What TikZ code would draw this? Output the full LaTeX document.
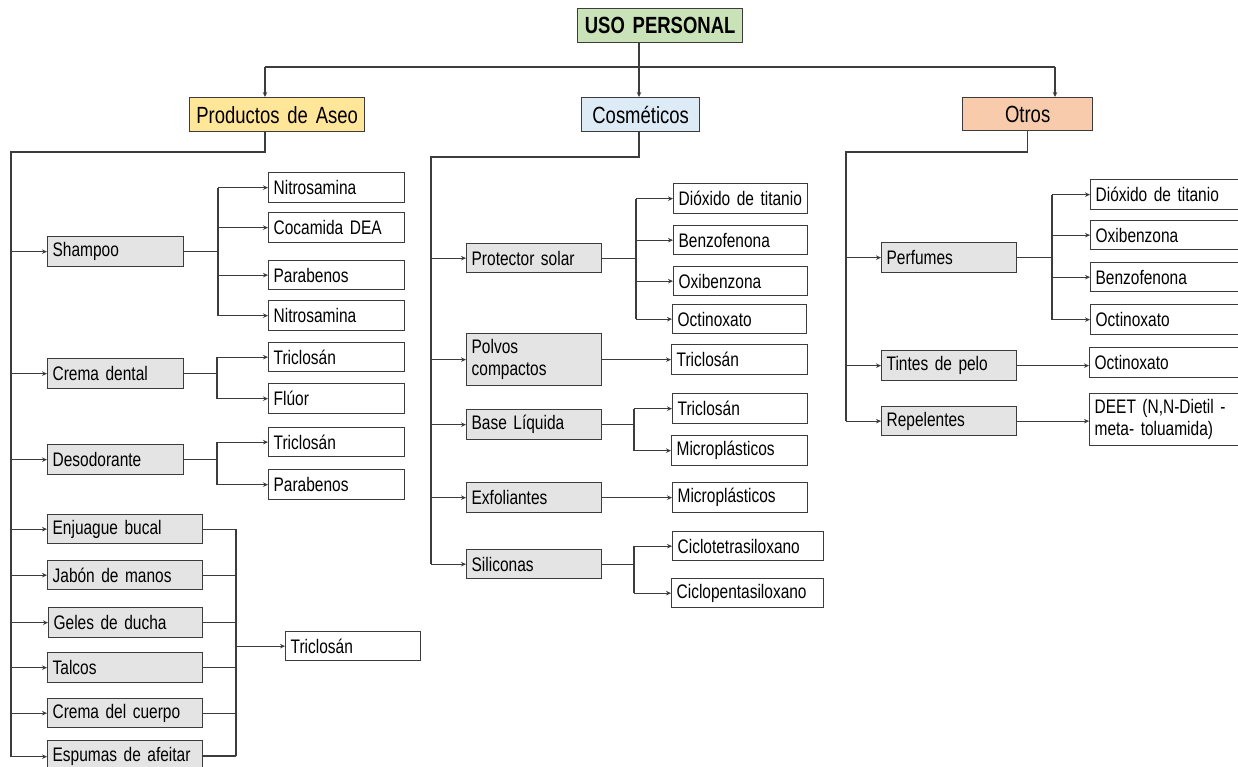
\documentclass[tikz,border=0pt]{standalone}
\usepackage{fontspec}
\setmainfont[FakeStretch=0.79]{Liberation Sans}
\usetikzlibrary{arrows.meta}

\definecolor{inkline}{HTML}{3C3C3C}
\definecolor{catgray}{HTML}{E4E4E4}
\definecolor{rootgreen}{HTML}{C9E2B8}
\definecolor{aseoyellow}{HTML}{FFE699}
\definecolor{cosblue}{HTML}{DDEBF7}
\definecolor{otrosorange}{HTML}{F8CBAD}

% text sizes, with narrower word spaces to suit the condensed letters
\newcommand\bodysize{\fontsize{19.6}{22}\selectfont\spaceskip=4.3pt\relax}
\newcommand\headsize{\fontsize{23.4}{26}\selectfont\spaceskip=5.1pt\relax}

% box from its top-left (x1,y1) to bottom-right (x2,y2), in pixel units
\newcommand\ubox[7]{%
  \pgfmathsetmacro\uboxh{#6-#4}%
  \pgfmathsetmacro\uboxt{#5-#3-10}%
  \node[#1, anchor=north west, text width=\uboxt pt, minimum height=\uboxh pt] (#2) at (#3,#4) {#7};}

\tikzset{
  basebox/.style={draw=inkline, line width=1.3pt, inner xsep=5pt, inner ysep=0pt,
    align=left, font=\bodysize},
  leaf/.style={basebox, fill=white},
  cat/.style={basebox, fill=catgray},
  head/.style={basebox, align=center, font=\headsize},
  rootbox/.style={head, fill=rootgreen, font=\headsize\bfseries},
  conn/.style={draw=inkline, line width=1.3pt},
  arr/.style={conn, -{Stealth[length=5pt,width=4.5pt]}}
}

\begin{document}
\begin{tikzpicture}[x=1pt,y=-1pt]
\useasboundingbox (0,0) rectangle (1238,766);
\clip (0,0) rectangle (1238,766);
\fill[white] (0,0) rectangle (1238,766);

% ---------- top levels ----------
\ubox{rootbox}{uso}{577}{8}{742}{42}{USO PERSONAL}
\ubox{head, fill=aseoyellow}{aseo}{189}{97}{364}{131}{Productos de Aseo}
\ubox{head, fill=cosblue}{cos}{581}{97}{699}{131}{Cosméticos}
\ubox{head, fill=otrosorange}{otros}{962}{97}{1092}{130}{Otros}

% ---------- Productos de Aseo ----------
\ubox{cat}{shampoo}{47}{236}{183}{266}{Shampoo}
\ubox{cat}{crema}{47}{358}{183}{388}{Crema dental}
\ubox{cat}{deso}{47}{444}{183}{474}{Desodorante}
\ubox{cat}{enj}{47}{514}{202}{543}{Enjuague bucal}
\ubox{cat}{jab}{47}{560}{202}{589}{Jabón de manos}
\ubox{cat}{geles}{48}{607}{202}{637}{Geles de ducha}
\ubox{cat}{talcos}{47}{652}{202}{682}{Talcos}
\ubox{cat}{cuerpo}{47}{698}{202}{727}{Crema del cuerpo}
\ubox{cat}{espumas}{47}{740}{202}{772}{Espumas de afeitar}

\ubox{leaf}{nitA}{268}{172}{404}{202}{Nitrosamina}
\ubox{leaf}{cde}{268}{212}{404}{242}{Cocamida DEA}
\ubox{leaf}{parA}{268}{260}{404}{289}{Parabenos}
\ubox{leaf}{nitB}{268}{300}{404}{330}{Nitrosamina}
\ubox{leaf}{triA}{268}{342}{404}{371}{Triclosán}
\ubox{leaf}{fluor}{268}{383}{404}{413}{Flúor}
\ubox{leaf}{triB}{268}{427}{404}{456}{Triclosán}
\ubox{leaf}{parB}{268}{469}{404}{499}{Parabenos}
\ubox{leaf}{triC}{285}{631}{420}{660}{Triclosán}

% ---------- Cosméticos ----------
\ubox{cat}{prot}{466}{243}{601}{272}{Protector solar}
\ubox{cat}{polvos}{466}{333}{601}{385}{Polvos\\compactos}
\ubox{cat}{base}{466}{409}{601}{439}{Base Líquida}
\ubox{cat}{exfo}{466}{482}{601}{512}{Exfoliantes}
\ubox{cat}{sili}{466}{549}{601}{578}{Siliconas}

\ubox{leaf}{dioA}{673}{183}{807}{213}{Dióxido de titanio}
\ubox{leaf}{benA}{673}{225}{807}{254}{Benzofenona}
\ubox{leaf}{oxiA}{673}{266}{807}{295}{Oxibenzona}
\ubox{leaf}{octA}{672}{304}{806}{333}{Octinoxato}
\ubox{leaf}{triD}{671}{344}{807}{374}{Triclosán}
\ubox{leaf}{triE}{672}{393}{807}{423}{Triclosán}
\ubox{leaf}{micA}{671}{435}{807}{465}{Microplásticos}
\ubox{leaf}{micB}{672}{482}{807}{512}{Microplásticos}
\ubox{leaf}{cicT}{672}{531}{823}{560}{Ciclotetrasiloxano}
\ubox{leaf}{cicP}{671}{578}{823}{607}{Ciclopentasiloxano}

% ---------- Otros ----------
\ubox{cat}{perf}{881}{242}{1016}{272}{Perfumes}
\ubox{cat}{tint}{881}{350}{1016}{380}{Tintes de pelo}
\ubox{cat}{rep}{881}{406}{1016}{435}{Repelentes}

\ubox{leaf}{dioB}{1090}{179}{1248}{209}{Dióxido de titanio}
\ubox{leaf}{oxiB}{1090}{220}{1248}{249}{Oxibenzona}
\ubox{leaf}{benB}{1090}{262}{1248}{291}{Benzofenona}
\ubox{leaf}{octB}{1090}{304}{1248}{334}{Octinoxato}
\ubox{leaf}{octC}{1089}{347}{1248}{377}{Octinoxato}
\ubox{leaf}{deet}{1089}{393}{1248}{445}{DEET (N,N-Dietil -\\meta- toluamida)}

% ---------- connectors: top ----------
\coordinate (hub) at (639,67);
\coordinate (barL) at (265,67);
\coordinate (barR) at (1055,67);
\draw[conn] (hub |- uso.south) -- (hub);
\draw[conn] (barL) -- (barR);
\draw[arr] (barL) -- (barL |- aseo.north);
\draw[arr] (hub) -- (hub |- cos.north);
\draw[arr] (barR) -- (barR |- otros.north);

% ---------- connectors: Productos de Aseo ----------
\coordinate (aT) at (11,152);
\draw[conn] (barL |- aseo.south) |- (aT) -- (aT |- espumas.west);
\foreach \n in {shampoo,crema,deso,enj,jab,geles,talcos,cuerpo,espumas}
  \draw[arr] (aT |- \n.west) -- (\n.west);

\coordinate (shB) at (218,0);
\draw[conn] (shampoo.east) -- (shB |- shampoo.east);
\draw[conn] (shB |- nitA.west) -- (shB |- nitB.west);
\foreach \n in {nitA,cde,parA,nitB}
  \draw[arr] (shB |- \n.west) -- (\n.west);

\coordinate (crB) at (217,0);
\draw[conn] (crema.east) -- (crB |- crema.east);
\draw[conn] (crB |- triA.west) -- (crB |- fluor.west);
\foreach \n in {triA,fluor}
  \draw[arr] (crB |- \n.west) -- (\n.west);

\coordinate (deB) at (217,0);
\draw[conn] (deso.east) -- (deB |- deso.east);
\draw[conn] (deB |- triB.west) -- (deB |- parB.west);
\foreach \n in {triB,parB}
  \draw[arr] (deB |- \n.west) -- (\n.west);

\coordinate (tgB) at (236,0);
\foreach \n in {enj,jab,geles,talcos,cuerpo}
  \draw[conn] (\n.east) -- (tgB |- \n.east);
\coordinate (espE) at (202,756);
\draw[conn] (espE) -- (tgB |- espE);
\draw[conn] (tgB |- enj.east) -- (tgB |- espE);
\draw[arr] (tgB |- triC.west) -- (triC.west);

% ---------- connectors: Cosméticos ----------
\coordinate (cT) at (431,157);
\draw[conn] (hub |- cos.south) |- (cT) -- (cT |- sili.west);
\foreach \n in {prot,polvos,base,exfo,sili}
  \draw[arr] (cT |- \n.west) -- (\n.west);

\coordinate (prB) at (636,0);
\draw[conn] (prot.east) -- (prB |- prot.east);
\draw[conn] (prB |- dioA.west) -- (prB |- octA.west);
\foreach \n in {dioA,benA,oxiA,octA}
  \draw[arr] (prB |- \n.west) -- (\n.west);

\draw[arr] (polvos.east) -- (polvos.east -| triD.west);

\coordinate (baB) at (634,0);
\draw[conn] (base.east) -- (baB |- base.east);
\draw[conn] (baB |- triE.west) -- (baB |- micA.west);
\foreach \n in {triE,micA}
  \draw[arr] (baB |- \n.west) -- (\n.west);

\draw[arr] (exfo.east) -- (exfo.east -| micB.west);

\coordinate (siB) at (634,0);
\draw[conn] (sili.east) -- (siB |- sili.east);
\draw[conn] (siB |- cicT.west) -- (siB |- cicP.west);
\foreach \n in {cicT,cicP}
  \draw[arr] (siB |- \n.west) -- (\n.west);

% ---------- connectors: Otros ----------
\coordinate (oT) at (846,152);
\draw[conn] (otros.south) |- (oT) -- (oT |- rep.west);
\foreach \n in {perf,tint,rep}
  \draw[arr] (oT |- \n.west) -- (\n.west);

\coordinate (peB) at (1052,0);
\draw[conn] (perf.east) -- (peB |- perf.east);
\draw[conn] (peB |- dioB.west) -- (peB |- octB.west);
\foreach \n in {dioB,oxiB,benB,octB}
  \draw[arr] (peB |- \n.west) -- (\n.west);

\draw[arr] (tint.east) -- (tint.east -| octC.west);
\draw[arr] (rep.east) -- (rep.east -| deet.west);
\end{tikzpicture}
\end{document}
